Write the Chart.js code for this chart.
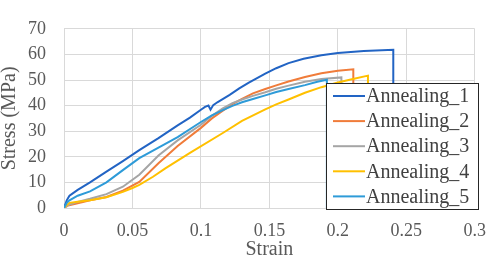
<!DOCTYPE html>
<html>
<head>
<meta charset="utf-8">
<script src="https://cdn.jsdelivr.net/npm/chart.js@4/dist/chart.umd.min.js"></script>
<style>
  html, body { margin: 0; padding: 0; background: #fff; }
  #wrap { width: 498px; height: 268px; }
</style>
</head>
<body>
<div id="wrap"><canvas id="stress_strain"></canvas></div>
<script>
const seriesNames = ['Annealing_1', 'Annealing_2', 'Annealing_3', 'Annealing_4', 'Annealing_5'];
const seriesColors = ['#2264c4', '#f07c3a', '#a5a5a5', '#ffc000', '#2e9bd8'];

// strain / stress pairs, each ending with the fracture drop
const strain1 = [0, 0.002, 0.004, 0.010, 0.019, 0.031, 0.043, 0.055, 0.069, 0.083, 0.092, 0.100, 0.103, 0.1055, 0.107, 0.109, 0.112, 0.121, 0.128, 0.135, 0.147, 0.155, 0.164, 0.175, 0.188, 0.200, 0.219, 0.2405, 0.2405];
const stress1 = [0, 3.0, 4.8, 7.1, 10.0, 14.2, 18.3, 22.6, 27.3, 32.3, 35.3, 38.4, 39.5, 40.0, 38.4, 40.2, 41.3, 44.2, 46.7, 49.0, 52.5, 54.6, 56.6, 58.3, 59.7, 60.5, 61.3, 61.8, 0];

const strain2 = [0, 0.003, 0.010, 0.019, 0.031, 0.043, 0.055, 0.069, 0.083, 0.100, 0.108, 0.116, 0.123, 0.130, 0.138, 0.147, 0.155, 0.164, 0.176, 0.188, 0.200, 0.2113, 0.2113];
const stress2 = [0, 1.0, 1.8, 3.0, 4.3, 6.8, 10.2, 17.5, 24.2, 31.3, 35.0, 38.0, 40.6, 42.6, 44.8, 46.5, 47.9, 49.4, 51.2, 52.6, 53.6, 54.2, 0];

const strain3 = [0, 0.003, 0.010, 0.019, 0.031, 0.043, 0.055, 0.069, 0.083, 0.100, 0.108, 0.116, 0.123, 0.130, 0.138, 0.147, 0.155, 0.164, 0.176, 0.188, 0.2026, 0.2026];
const stress3 = [0, 1.2, 2.4, 3.6, 5.4, 8.3, 13.0, 20.5, 26.4, 32.5, 36.0, 38.9, 41.0, 42.4, 43.8, 45.2, 46.6, 47.8, 49.3, 50.4, 51.0, 0];

const strain4 = [0, 0.002, 0.004, 0.010, 0.019, 0.031, 0.043, 0.050, 0.055, 0.065, 0.074, 0.092, 0.116, 0.130, 0.147, 0.155, 0.164, 0.176, 0.188, 0.200, 0.211, 0.222, 0.222];
const stress4 = [0, 1.2, 2.0, 2.4, 3.0, 4.2, 6.3, 7.8, 9.0, 12.2, 15.5, 21.5, 29.3, 34.0, 38.5, 40.5, 42.4, 45.0, 47.2, 49.0, 50.4, 51.7, 0];

const strain5 = [0, 0.002, 0.004, 0.010, 0.019, 0.031, 0.043, 0.055, 0.069, 0.083, 0.100, 0.108, 0.116, 0.123, 0.130, 0.138, 0.147, 0.155, 0.164, 0.176, 0.185, 0.192, 0.192];
const stress5 = [0, 2.0, 3.0, 4.8, 6.5, 10.0, 14.8, 19.5, 23.6, 27.7, 33.6, 36.2, 38.2, 39.9, 41.3, 42.6, 44.0, 45.3, 46.5, 48.0, 49.3, 50.1, 0];

const strainTicks = [0, 0.05, 0.1, 0.15, 0.2, 0.25, 0.3];
const stressTicks = [0, 10, 20, 30, 40, 50, 60, 70];

const strains = [strain1, strain2, strain3, strain4, strain5];
const stresses = [stress1, stress2, stress3, stress4, stress5];

const serif = '"Liberation Serif"';
const gridColor = '#d9d9d9';
const tickColor = '#595959';

// legend box drawn inside the plot, on top of the curves
const boxLegend = {
  id: 'boxLegend',
  afterDatasetsDraw(chart) {
    const ctx = chart.ctx;
    const x = 326.5, y = 83.5, w = 152, h = 126;
    ctx.save();
    ctx.fillStyle = '#fff';
    ctx.fillRect(x, y, w, h);
    ctx.strokeStyle = '#262626';
    ctx.lineWidth = 1;
    ctx.strokeRect(x, y, w, h);
    ctx.font = '20px ' + serif;
    ctx.textBaseline = 'middle';
    seriesNames.forEach((name, i) => {
      const cy = 96 + i * 25.1;
      ctx.strokeStyle = seriesColors[i];
      ctx.lineWidth = 2;
      ctx.beginPath();
      ctx.moveTo(333, cy);
      ctx.lineTo(365, cy);
      ctx.stroke();
      ctx.fillStyle = '#404040';
      ctx.fillText(name, 366, cy + 1);
    });
    ctx.restore();
  }
};

const datasets = seriesNames.map((name, i) => ({
  label: name,
  data: strains[i].map((s, j) => ({ x: s, y: stresses[i][j] })),
  borderColor: seriesColors[i],
  backgroundColor: seriesColors[i],
  borderWidth: 2,
  pointRadius: 0,
  tension: 0,
  fill: false,
  order: seriesNames.length - i
}));

Chart.defaults.font.family = serif;

const options = {
  responsive: true,
  maintainAspectRatio: false,
  animation: false,
  layout: { padding: { top: 9, right: 14, bottom: 8, left: 0 } },
  plugins: {
    legend: { display: false },
    tooltip: { enabled: false }
  },
  scales: {
    x: {
      type: 'linear',
      min: 0,
      max: 0.3,
      afterFit: (scale) => { scale.height = 52; },
      afterBuildTicks: (scale) => { scale.ticks = strainTicks.map(v => ({ value: v })); },
      grid: { color: gridColor, drawTicks: false },
      border: { color: gridColor },
      ticks: {
        padding: 12,
        color: tickColor,
        font: { family: serif, size: 18 },
        callback: (v) => String(+v.toFixed(2))
      },
      title: {
        display: true,
        text: 'Strain',
        color: tickColor,
        font: { family: serif, size: 20, lineHeight: 1 },
        padding: 0
      }
    },
    y: {
      min: 0,
      max: 70,
      afterFit: (scale) => { scale.width = 64; },
      afterBuildTicks: (scale) => { scale.ticks = stressTicks.map(v => ({ value: v })); },
      grid: { color: gridColor, drawTicks: false },
      border: { color: gridColor },
      ticks: {
        padding: 18,
        color: tickColor,
        font: { family: serif, size: 18 }
      },
      title: {
        display: true,
        text: 'Stress (MPa)',
        color: tickColor,
        font: { family: serif, size: 20, lineHeight: 1 },
        padding: 0
      }
    }
  }
};

new Chart('stress_strain', { type: 'line', data: { datasets }, options, plugins: [boxLegend] });
</script>
</body>
</html>
